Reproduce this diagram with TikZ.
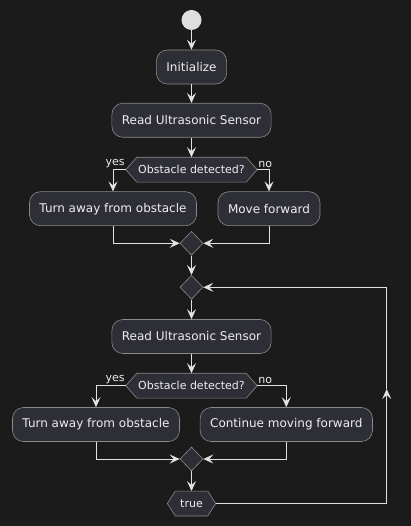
\documentclass[tikz,border=0pt]{standalone}
\usepackage{fontspec}
\setmainfont{DejaVu Sans}
\usetikzlibrary{arrows.meta,shapes.geometric,calc,backgrounds}
\pgfdeclarelayer{bottom}
\pgfsetlayers{bottom,background,main}
\definecolor{bgc}{HTML}{1B1B1B}
\definecolor{boxfill}{HTML}{2E2F36}
\definecolor{boxline}{HTML}{8A8A8A}
\definecolor{linec}{HTML}{E2E2E2}
\definecolor{txt}{HTML}{EEEEEE}
\definecolor{startc}{HTML}{DEDEDE}
\newcommand\hexframe[2]{%
  \begin{pgfonlayer}{background}
  \path[hex] (#1.west) -- ($(#1.north west)+(#2,0)$) -- ($(#1.north east)+(-#2,0)$) -- (#1.east) -- ($(#1.south east)+(-#2,0)$) -- ($(#1.south west)+(#2,0)$) -- cycle;
  \end{pgfonlayer}}
\begin{document}
\begin{tikzpicture}[x=1pt,y=-1pt,
  act/.style={rectangle, rounded corners=11pt, draw=boxline, fill=boxfill, line width=0.6pt, text=txt, font=\fontsize{12}{14}\selectfont, inner xsep=10pt, inner ysep=0pt, minimum height=34pt},
  dec/.style={inner sep=0pt, minimum height=24.5pt, text=txt, font=\fontsize{11}{13}\selectfont},
  hex/.style={draw=boxline, fill=boxfill, line width=0.6pt},
  merge/.style={diamond, draw=boxline, fill=boxfill, line width=0.6pt, minimum width=23pt, minimum height=24pt, inner sep=0pt},
  startn/.style={circle, fill=startc, minimum size=20pt, inner sep=0pt},
  arr/.style={draw=linec, line width=1pt, -{Stealth[length=10pt,width=9pt,inset=4pt]}},
  lbl/.style={text=txt, font=\fontsize{11}{13}\selectfont, inner xsep=1pt, inner ysep=1.5pt}]
\begin{pgfonlayer}{bottom}
\fill[bgc] (0,0) rectangle (411,526);
\end{pgfonlayer}
\useasboundingbox (0,0) rectangle (411,526);

\node[startn] (start) at (191.5,20) {};
\node[act] (init) at (191.5,67) {Initialize};
\node[act] (read1) at (191.5,120.3) {Read Ultrasonic Sensor};
\node[dec, minimum width=131pt] (d1) at (191.5,169.7) {Obstacle detected?};
\node[act] (turn1) at (113,208.7) {Turn away from obstacle};
\node[act] (move) at (269,208.7) {Move forward};
\node[merge] (m1) at (191.5,243.3) {};
\node[merge] (m2) at (191.5,287.3) {};
\node[act] (read2) at (191.5,336.5) {Read Ultrasonic Sensor};
\node[dec, minimum width=131pt] (d2) at (191.5,385.7) {Obstacle detected?};
\node[act] (turn2) at (96,424.5) {Turn away from obstacle};
\node[act] (cont) at (286.3,424.5) {Continue moving forward};
\node[merge] (m3) at (191.5,459) {};
\node[dec, minimum width=48pt] (tr) at (191.5,503.5) {true};
\hexframe{d1}{11}
\hexframe{d2}{11}
\hexframe{tr}{8}

\node[lbl, anchor=south east] (y1) at (d1.west) {yes};
\node[lbl, anchor=south west] (n1) at (d1.east) {no};
\node[lbl, anchor=south east] (y2) at (d2.west) {yes};
\node[lbl, anchor=south west] (n2) at (d2.east) {no};

\draw[arr] (start) -- (init);
\draw[arr] (init) -- (read1);
\draw[arr] (read1) -- (d1);
\draw[arr] (d1.west) -| (turn1.north);
\draw[arr] (d1.east) -| (move.north);
\draw[arr] (turn1.south) |- (m1.west);
\draw[arr] (move.south) |- (m1.east);
\draw[arr] (m1) -- (m2);
\draw[arr] (m2) -- (read2);
\draw[arr] (read2) -- (d2);
\draw[arr] (d2.west) -| (turn2.north);
\draw[arr] (d2.east) -| (cont.north);
\draw[arr] (turn2.south) |- (m3.west);
\draw[arr] (cont.south) |- (m3.east);
\draw[arr] (m3) -- (tr);
\coordinate (lp) at (386.7,389);
\draw[arr] (tr.east) -| (lp);
\draw[arr] (lp) |- (m2.east);
\end{tikzpicture}
\end{document}
